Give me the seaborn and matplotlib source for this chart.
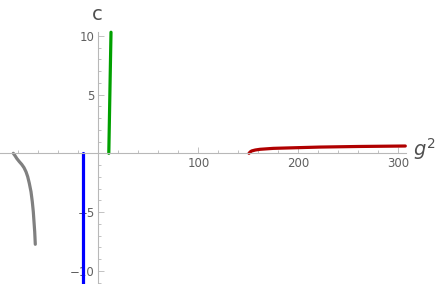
import numpy as np
import pandas as pd
import seaborn as sns
import matplotlib.pyplot as plt
from matplotlib.ticker import MultipleLocator, FixedLocator

sns.set_style('white')
plt.rcParams['font.family'] = ['DejaVu Sans']
plt.rcParams['mathtext.fontset'] = 'dejavusans'

# curves (g^2, c)
grey_g2 = [-85, -83.3, -81.6, -79, -76.6, -74.3, -72.3, -70.6, -69, -67.3, -66, -65, -64.3, -63.6, -63]
grey_c = [0, -0.2, -0.43, -0.71, -0.94, -1.22, -1.57, -1.99, -2.55, -3.27, -4.12, -4.97, -5.82, -6.67, -7.74]
blue_g2 = [-15, -15]
blue_c = [0, -11.1]
green_g2 = [10.5, 11.6, 12.7]
green_c = [0, 5.2, 10.3]
red_g2 = [150.7, 152, 153.4, 157, 161.7, 175, 200, 221.7, 260, 307]
red_c = [0, 0.12, 0.2, 0.28, 0.34, 0.42, 0.48, 0.53, 0.58, 0.62]

curves = [
    (grey_g2, grey_c, '#808080'),
    (blue_g2, blue_c, '#0000ff'),
    (green_g2, green_c, '#00a000'),
    (red_g2, red_c, '#b00000'),
]

fig = plt.figure(figsize=(4.36, 2.84), dpi=100)
ax = fig.add_axes([0, 0, 406 / 436, 252 / 284])

for xs, ys, col in curves:
    df = pd.DataFrame({'g2': xs, 'c': ys})
    sns.lineplot(data=df, x='g2', y='c', color=col, sort=False, estimator=None,
                 linewidth=2.3, solid_capstyle='round', solid_joinstyle='round',
                 ax=ax, clip_on=False)

ax.set_xlim(-98.3, 307.7)
ax.set_ylim(-11.12, 10.32)

for s in ['top', 'right']:
    ax.spines[s].set_visible(False)
ax.spines['left'].set_position(('data', 0))
ax.spines['bottom'].set_position(('data', 0))
for s in ['left', 'bottom']:
    ax.spines[s].set_color('#b8b8b8')
    ax.spines[s].set_linewidth(0.8)

ax.xaxis.set_major_locator(FixedLocator([100, 200, 300]))
ax.xaxis.set_minor_locator(MultipleLocator(20))
ax.yaxis.set_major_locator(FixedLocator([-10, -5, 5, 10]))
ax.yaxis.set_minor_locator(MultipleLocator(1))
ax.set_yticklabels(['\u221210', '\u22125', '5', '10'])

ax.tick_params(which='both', direction='in', color='#b8b8b8', width=0.6,
               bottom=True, left=True, labelsize=8.5, labelcolor='#606060')
ax.tick_params(which='major', length=4, pad=2.5)
ax.tick_params(which='minor', length=2.5)
ax.set_xlabel('')
ax.set_ylabel('')

fig.text(97 / 436, 1 - 15 / 284, 'c', fontsize=14, color='#505050',
         ha='center', va='center')
fig.text(413 / 436, 1 - 156 / 284, '$g^2$', fontsize=14, color='#505050',
         ha='left', va='baseline')

plt.savefig('out.png', dpi=100)
